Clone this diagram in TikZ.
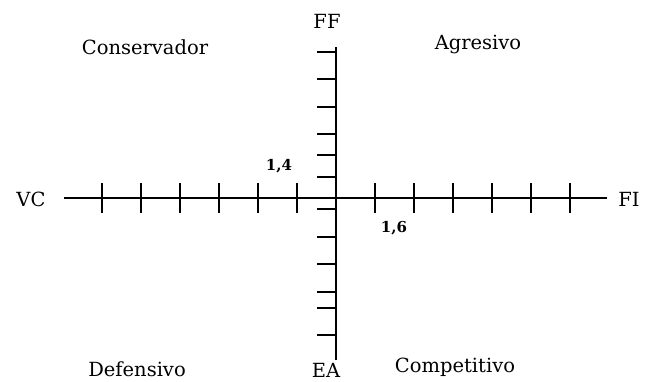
\documentclass[tikz,border=0pt]{standalone}
\usepackage{fontspec}
\setmainfont{DejaVu Serif}
\begin{document}
\begin{tikzpicture}[x=1pt,y=-1pt,
  axisline/.style={line width=1.2pt,black},
  tickline/.style={line width=1.1pt,black},
  quad/.style={font=\fontsize{19.5}{19.5}\selectfont,inner sep=0pt},
  axlabel/.style={font=\fontsize{19.5}{19.5}\selectfont,inner sep=0pt},
  numlabel/.style={font=\fontsize{15}{15}\selectfont\bfseries,inner sep=0pt}]
\useasboundingbox[fill=white] (0,0) rectangle (649,381);
% axes
\coordinate (L) at (64,198);
\coordinate (R) at (607,198);
\coordinate (T) at (336,47);
\coordinate (B) at (336,360);
\draw[axisline] (L) -- (R);
\draw[axisline] (T) -- (B);
% horizontal ticks
\foreach \x in {102,141,180,219,258,297,375,414,453,492,531,570}
  \draw[tickline] (\x,183) -- (\x,213);
% vertical ticks
\foreach \y in {52,79,107,134,155,177,209,237,264,292,308,335}
  \draw[tickline] (317,\y) -- (336,\y);
% labels
\node[axlabel] (ff) at (327,21) {FF};
\node[axlabel] (ea) at (326,370) {EA};
\node[axlabel] (vc) at (31,199) {VC};
\node[axlabel] (fi) at (629,199) {FI};
\node[quad] (cons) at (145,47) {Conservador};
\node[quad] (agr) at (478,44) {Agresivo};
\node[quad] (def) at (137,369.5) {Defensivo};
\node[quad] (comp) at (455,367.5) {Competitivo};
\node[numlabel] (n14) at (279,166) {1,4};
\node[numlabel] (n16) at (394,228) {1,6};
\end{tikzpicture}
\end{document}
